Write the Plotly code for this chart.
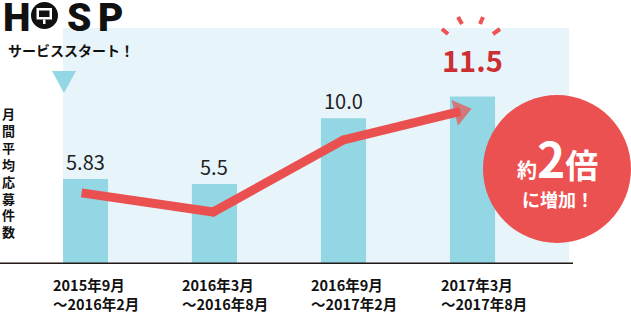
import plotly.graph_objects as go

# ---------------- data ----------------
period_start = ["2015年9月", "2016年3月", "2016年9月", "2017年3月"]
period_end = ["～2016年2月", "～2016年8月", "～2017年2月", "～2017年8月"]
values = [5.83, 5.5, 10.0, 11.5]
value_labels = ["5.83", "5.5", "10.0", "11.5"]
trend_x = [-0.03, 0.99, 2.0, 2.906]
trend_y = [4.88, 3.57, 8.52, 10.47]
y_title = "月間平均応募件数"
start_label = "サービススタート！"
badge_top = ("約", "2", "倍")
badge_bottom = "に増加！"

# ---------------- layout geometry (pixels) ----------------
W, H = 631, 315
L, R, T, B = 63, 569, 28, 264

def px(x):
    return (x - L) / (R - L)

def py(y):
    return (B - y) / (B - T)

BAR = "#93d6e4"
BG = "#e7f5fa"
RED = "#eb5050"
DARKRED = "#cc2f33"
INK = "#231815"
JP = "Noto Sans CJK JP"

cats = list(range(len(values)))

fig = go.Figure()
fig.add_trace(go.Bar(x=cats, y=values, marker=dict(color=BAR, line=dict(width=0)),
                     width=0.35, hoverinfo="skip"))
n = len(trend_x)
fig.add_trace(go.Scatter(
    x=trend_x, y=trend_y, mode="lines+markers",
    line=dict(color=RED, width=9),
    marker=dict(color=RED, size=[9] * (n - 1) + [23],
                symbol=["circle"] * (n - 1) + ["triangle-up"],
                angleref="previous", line=dict(width=0)),
    hoverinfo="skip"))

ann = []
# value labels
for i, (v, t) in enumerate(zip(values, value_labels)):
    hi = i == len(values) - 1
    ann.append(dict(x=i, y=v, xref="x", yref="y", text=t, showarrow=False,
                    yanchor="bottom", yshift=14 if hi else 1,
                    font=dict(family=JP, size=29 if hi else 20,
                              color=DARKRED if hi else "#222222",
                              weight="bold" if hi else "normal")))
# category labels
for i, (a, b) in enumerate(zip(period_start, period_end)):
    ann.append(dict(x=i, y=0, xref="x", yref="paper", xshift=-34, yshift=-8,
                    xanchor="left", yanchor="top", align="left",
                    text=a + "<br>" + b, showarrow=False,
                    font=dict(family=JP, size=14.5, color="#111111", weight="bold")))
# y title (vertical)
ann.append(dict(x=px(8), y=py(173), xref="paper", yref="paper",
                text="<br>".join(list(y_title)), showarrow=False,
                xanchor="center", yanchor="middle",
                font=dict(family=JP, size=13, color="#111111", weight="bold")))
# start label
ann.append(dict(x=px(6), y=py(50), xref="paper", yref="paper", text=start_label,
                showarrow=False, xanchor="left", yanchor="middle",
                font=dict(family=JP, size=14, color="#111111", weight="bold")))
# logo letters
for ch, cx in (("H", 16), ("S", 78.5), ("P", 110.5)):
    ann.append(dict(x=px(cx), y=py(17.5), xref="paper", yref="paper", text=ch,
                    showarrow=False, xanchor="center", yanchor="middle",
                    font=dict(family="Roboto", size=39,
                              color="#111111", weight=900)))
# badge text
ann.append(dict(x=px(557), y=py(157), xref="paper", yref="paper",
                text=("<span style='font-size:20px'>%s</span>"
                      "<span style='font-size:48px'>%s</span>"
                      "<span style='font-size:33px'>%s</span>") % badge_top,
                showarrow=False, xanchor="center", yanchor="middle",
                font=dict(family=JP, size=33, color="white", weight="bold")))
ann.append(dict(x=px(558), y=py(199), xref="paper", yref="paper", text=badge_bottom,
                showarrow=False, xanchor="center", yanchor="middle",
                font=dict(family=JP, size=18, color="white", weight="bold")))

shapes = []
# axis base line
shapes.append(dict(type="line", xref="paper", yref="y", x0=px(0), x1=px(573), y0=0, y1=0,
                   line=dict(color=INK, width=3)))
# start marker triangle
shapes.append(dict(type="path", xref="paper", yref="paper",
                   path="M %f %f L %f %f L %f %f Z" % (px(52), py(71), px(76), py(71), px(64), py(93)),
                   fillcolor=BAR, line=dict(width=0)))
# burst strokes above highlight
for (x0, y0, x1, y1) in ((442, 29, 448, 34), (458, 17, 462, 24), (483, 17, 480, 24), (500, 29, 493, 34)):
    shapes.append(dict(type="line", xref="paper", yref="paper",
                       x0=px(x0), y0=py(y0), x1=px(x1), y1=py(y1),
                       line=dict(color="#ee5252", width=4)))
# badge circle
shapes.append(dict(type="circle", xref="paper", yref="paper",
                   x0=px(483), x1=px(631), y0=py(95), y1=py(243),
                   fillcolor="#ec5151", line=dict(width=0)))
# logo "O" with monitor icon
shapes.append(dict(type="circle", xref="paper", yref="paper",
                   x0=px(31), x1=px(58), y0=py(2), y1=py(29),
                   fillcolor="#111111", line=dict(width=0)))
shapes.append(dict(type="rect", xref="paper", yref="paper",
                   x0=px(36.5), x1=px(52), y0=py(8), y1=py(19.5),
                   fillcolor="white", line=dict(width=0)))
shapes.append(dict(type="rect", xref="paper", yref="paper",
                   x0=px(39), x1=px(49.5), y0=py(10.5), y1=py(17),
                   fillcolor="#111111", line=dict(width=0)))
shapes.append(dict(type="rect", xref="paper", yref="paper",
                   x0=px(43), x1=px(45.5), y0=py(19.5), y1=py(24),
                   fillcolor="white", line=dict(width=0)))

fig.update_layout(
    width=W, height=H,
    margin=dict(l=L, r=W - R, t=T, b=H - B, pad=0),
    paper_bgcolor="white", plot_bgcolor=BG,
    showlegend=False,
    bargap=0.65,
    xaxis=dict(range=[-0.174, 3.748], showticklabels=False, showgrid=False,
               zeroline=False, showline=False, ticks=""),
    yaxis=dict(range=[0, 16.2], showticklabels=False, showgrid=False,
               zeroline=False, showline=False, ticks=""),
    annotations=ann, shapes=shapes,
)

fig.write_html("out.html")
